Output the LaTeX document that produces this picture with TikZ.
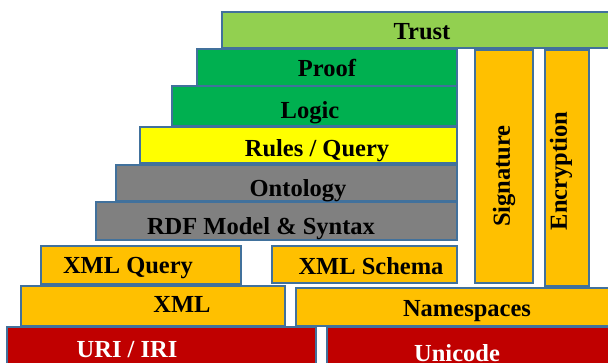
\documentclass[tikz,border=0pt]{standalone}
\usepackage{fontspec}
\setmainfont{Liberation Serif}
\definecolor{trustc}{HTML}{92D050}
\definecolor{greenc}{HTML}{00B050}
\definecolor{yellowc}{HTML}{FFFF00}
\definecolor{grayc}{HTML}{808080}
\definecolor{orangec}{HTML}{FFC000}
\definecolor{redc}{HTML}{C00000}
\definecolor{edgec}{HTML}{41719C}
\tikzset{
  layer/.style={draw=edgec, line width=1.3pt},
  lbl/.style={anchor=base, inner sep=0pt, font=\fontsize{24.5}{27}\selectfont\bfseries, text=black},
  wlbl/.style={lbl, text=white},
  vlbl/.style={inner sep=0pt, rotate=90, font=\fontsize{24.5}{27}\selectfont\bfseries, text=black},
}
\begin{document}
\begin{tikzpicture}[x=1pt, y=-1pt]
\useasboundingbox (0,0) rectangle (608,363);
% layer boxes
\path[layer, fill=trustc]  (222,12)  rectangle (614,48);
\path[layer, fill=greenc]  (197,49)  rectangle (457,86);
\path[layer, fill=greenc]  (172,86)  rectangle (457,126);
\path[layer, fill=yellowc] (140,127) rectangle (457,163);
\path[layer, fill=grayc]   (116,165) rectangle (457,201);
\path[layer, fill=grayc]   (96,202)  rectangle (457,240);
\path[layer, fill=orangec] (475,50)  rectangle (533,283);
\path[layer, fill=orangec] (545,50)  rectangle (589,286);
\path[layer, fill=orangec] (41,246)  rectangle (241,284);
\path[layer, fill=orangec] (272,246) rectangle (457,283);
\path[layer, fill=orangec] (21,286)  rectangle (285,326);
\path[layer, fill=orangec] (296,288) rectangle (614,326);
\path[layer, fill=redc]    (7,327)   rectangle (316,370);
\path[layer, fill=redc]    (327,327) rectangle (614,370);
% labels
\node[lbl]  (trust)  at (422,40)  {Trust};
\node[lbl]  (proof)  at (327,77)  {Proof};
\node[lbl]  (logic)  at (310,119) {Logic};
\node[lbl]  (rules)  at (317,157) {Rules / Query};
\node[lbl]  (onto)   at (298,197) {Ontology};
\node[lbl]  (rdf)    at (261,235) {RDF Model \& Syntax};
\node[lbl]  (xmlq)   at (128,274) {XML Query};
\node[lbl]  (xmls)   at (371,275) {XML Schema};
\node[lbl]  (xml)    at (182,313) {XML};
\node[lbl]  (ns)     at (467,317) {Namespaces};
\node[wlbl] (uri)    at (127,358) {URI / IRI};
\node[wlbl] (uni)    at (457,362) {Unicode};
\node[vlbl] (sig)    at (504,176) {Signature};
\node[vlbl] (enc)    at (561,171) {Encryption};
\end{tikzpicture}
\end{document}
